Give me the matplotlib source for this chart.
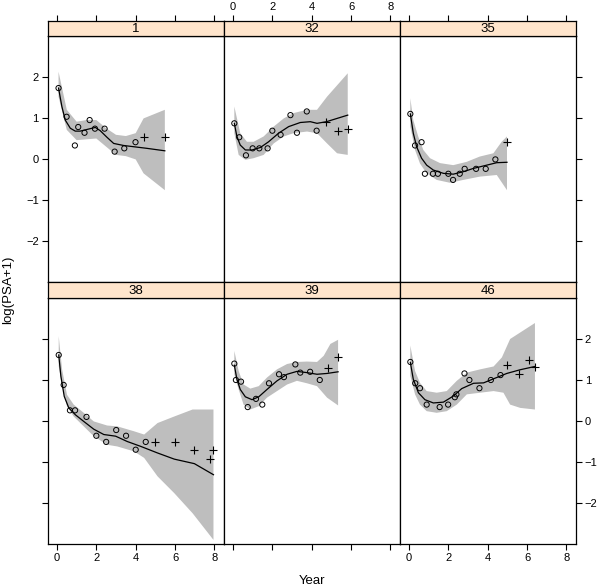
import matplotlib
matplotlib.use('Agg')
import matplotlib.pyplot as plt
import numpy as np

plt.rcParams['font.family'] = ['Liberation Sans', 'DejaVu Sans']

# panel ids, in plotting order (top row then bottom row)
ids = ['1', '32', '35', '38', '39', '46']

# observed points (circles) and later points (crosses), fitted curve, band
p1_ox = [0.08, 0.49, 0.91, 1.08, 1.40, 1.66, 1.93, 2.42, 2.93, 3.42, 3.99]
p1_oy = [1.73, 1.03, 0.33, 0.78, 0.64, 0.95, 0.74, 0.74, 0.18, 0.26, 0.41]
p1_px = [4.42, 5.48]
p1_py = [0.53, 0.53]
p1_fx = [0.08, 0.25, 0.42, 0.68, 0.93, 1.18, 1.52, 1.95, 2.20, 2.54, 2.88, 3.38, 3.89, 4.57, 5.48]
p1_fy = [1.73, 1.28, 0.95, 0.75, 0.68, 0.68, 0.72, 0.77, 0.69, 0.53, 0.38, 0.33, 0.30, 0.26, 0.20]
p1_ux = [0.08, 0.5, 1.0, 1.5, 2.0, 2.5, 3.0, 3.5, 4.0, 4.4, 5.48]
p1_uy = [2.13, 1.2, 0.91, 0.95, 0.95, 0.75, 0.59, 0.56, 0.63, 0.99, 1.2]
p1_lx = [0.08, 0.5, 1.0, 1.5, 2.0, 2.5, 3.0, 3.5, 4.0, 4.4, 5.48]
p1_ly = [1.52, 0.71, 0.46, 0.48, 0.50, 0.30, 0.10, 0.07, -0.01, -0.35, -0.76]

p32_ox = [0.07, 0.32, 0.66, 1.0, 1.34, 1.76, 2.0, 2.42, 2.92, 3.25, 3.75, 4.25]
p32_oy = [0.87, 0.53, 0.09, 0.26, 0.26, 0.26, 0.69, 0.59, 1.07, 0.64, 1.16, 0.69]
p32_px = [4.75, 5.32, 5.83]
p32_py = [0.91, 0.69, 0.74]
p32_fx = [0.07, 0.2, 0.37, 0.63, 0.97, 1.39, 1.81, 2.32, 2.83, 3.42, 3.93, 4.27, 4.75, 5.29, 5.83]
p32_fy = [0.87, 0.55, 0.34, 0.22, 0.22, 0.28, 0.42, 0.63, 0.79, 0.89, 0.91, 0.87, 0.91, 0.99, 1.07]
p32_ux = [0.07, 0.37, 0.71, 1.05, 1.56, 2.07, 2.58, 3.08, 3.76, 4.27, 4.78, 5.83]
p32_uy = [1.28, 0.63, 0.42, 0.42, 0.55, 0.79, 0.99, 1.12, 1.2, 1.2, 1.52, 2.09]
p32_lx = [0.07, 0.29, 0.63, 1.05, 1.56, 2.07, 2.58, 3.08, 3.76, 4.27, 4.78, 5.29, 5.83]
p32_ly = [0.63, 0.1, -0.02, 0.02, 0.1, 0.38, 0.55, 0.63, 0.67, 0.63, 0.38, 0.14, 0.1]

p35_ox = [0.07, 0.31, 0.64, 0.81, 1.22, 1.47, 2.0, 2.24, 2.58, 2.83, 3.41, 3.9, 4.39]
p35_oy = [1.10, 0.33, 0.41, -0.36, -0.36, -0.36, -0.36, -0.51, -0.36, -0.24, -0.24, -0.24, -0.01]
p35_px = [4.98]
p35_py = [0.41]
p35_fx = [0.07, 0.22, 0.39, 0.64, 0.9, 1.24, 1.75, 2.25, 2.76, 3.27, 3.95, 4.46, 4.98]
p35_fy = [1.1, 0.63, 0.3, 0.02, -0.15, -0.27, -0.35, -0.37, -0.31, -0.23, -0.15, -0.09, -0.08]
p35_ux = [0.07, 0.22, 0.47, 0.73, 1.07, 1.58, 2.25, 2.93, 3.6, 4.29, 4.71, 4.98]
p35_uy = [1.48, 0.95, 0.55, 0.22, 0.02, -0.1, -0.15, -0.07, 0.06, 0.14, 0.42, 0.55]
p35_lx = [0.07, 0.31, 0.56, 0.9, 1.41, 2.08, 2.76, 3.6, 4.46, 4.98]
p35_ly = [0.79, 0.22, -0.11, -0.35, -0.51, -0.58, -0.51, -0.43, -0.39, -0.76]

p38_ox = [0.09, 0.34, 0.66, 0.92, 1.5, 2.0, 2.5, 3.01, 3.51, 4.0, 4.51]
p38_oy = [1.61, 0.88, 0.26, 0.26, 0.10, -0.36, -0.51, -0.22, -0.36, -0.70, -0.51]
p38_px = [5.0, 6.01, 6.94, 7.78, 7.95]
p38_py = [-0.51, -0.51, -0.70, -0.93, -0.70]
p38_fx = [0.09, 0.2, 0.37, 0.6, 0.94, 1.36, 1.87, 2.38, 2.98, 3.57, 4.26, 5.11, 5.96, 6.98, 7.95]
p38_fy = [1.61, 1.09, 0.6, 0.32, 0.15, -0.01, -0.2, -0.33, -0.37, -0.5, -0.62, -0.78, -0.93, -1.04, -1.31]
p38_ux = [0.09, 0.26, 0.51, 0.85, 1.36, 1.87, 2.55, 3.06, 3.91, 4.43, 5.11, 5.96, 6.89, 7.95]
p38_uy = [2.07, 1.26, 0.64, 0.4, 0.2, -0.01, -0.11, -0.13, -0.25, -0.33, -0.05, 0.11, 0.28, 0.28]
p38_lx = [0.09, 0.26, 0.51, 0.85, 1.36, 1.87, 2.55, 3.06, 3.91, 4.43, 5.11, 5.96, 6.89, 7.95]
p38_ly = [1.34, 0.85, 0.36, 0.11, -0.13, -0.37, -0.58, -0.62, -0.74, -0.9, -1.35, -1.76, -2.25, -2.9]

p39_ox = [0.07, 0.15, 0.41, 0.75, 1.17, 1.49, 1.83, 2.34, 2.59, 3.17, 3.42, 3.92, 4.41]
p39_oy = [1.40, 1.0, 0.96, 0.34, 0.54, 0.40, 0.92, 1.14, 1.07, 1.38, 1.18, 1.2, 1.0]
p39_px = [4.83, 5.34]
p39_py = [1.29, 1.57]
p39_fx = [0.07, 0.2, 0.37, 0.63, 0.97, 1.31, 1.73, 2.24, 2.75, 3.25, 3.76, 4.27, 4.78, 5.34]
p39_fy = [1.36, 1.02, 0.77, 0.59, 0.52, 0.59, 0.77, 0.98, 1.14, 1.21, 1.18, 1.14, 1.16, 1.2]
p39_ux = [0.07, 0.29, 0.54, 0.88, 1.31, 1.73, 2.24, 2.75, 3.25, 3.76, 4.27, 4.61, 4.95, 5.34]
p39_uy = [1.71, 1.22, 0.89, 0.79, 0.85, 1.06, 1.26, 1.39, 1.44, 1.45, 1.44, 1.59, 1.88, 1.98]
p39_lx = [0.07, 0.29, 0.54, 0.88, 1.31, 1.73, 2.24, 2.75, 3.25, 3.76, 4.27, 4.78, 5.34]
p39_ly = [1.14, 0.77, 0.4, 0.28, 0.36, 0.57, 0.73, 0.89, 0.98, 0.92, 0.85, 0.57, 0.38]

p46_ox = [0.07, 0.32, 0.56, 0.9, 1.56, 1.99, 2.33, 2.41, 2.82, 3.07, 3.58, 4.16, 4.65]
p46_oy = [1.44, 0.92, 0.80, 0.40, 0.34, 0.40, 0.58, 0.65, 1.16, 1.0, 0.80, 1.0, 1.12]
p46_px = [4.99, 5.57, 6.08, 6.4]
p46_py = [1.37, 1.14, 1.49, 1.32]
p46_fx = [0.07, 0.22, 0.48, 0.81, 1.24, 1.75, 2.26, 2.68, 3.28, 3.79, 4.3, 4.97, 5.65, 6.4]
p46_fy = [1.43, 1.02, 0.69, 0.52, 0.44, 0.46, 0.61, 0.79, 0.92, 0.93, 1.03, 1.16, 1.25, 1.33]
p46_ux = [0.07, 0.31, 0.56, 0.9, 1.41, 1.92, 2.43, 2.94, 3.62, 4.3, 4.72, 5.14, 6.4]
p46_uy = [1.84, 1.22, 0.93, 0.73, 0.69, 0.73, 0.98, 1.18, 1.26, 1.33, 1.55, 2.0, 2.39]
p46_lx = [0.07, 0.31, 0.56, 0.9, 1.41, 1.92, 2.43, 2.94, 3.62, 4.3, 4.8, 5.14, 5.65, 6.4]
p46_ly = [1.1, 0.65, 0.4, 0.24, 0.2, 0.24, 0.4, 0.65, 0.69, 0.73, 0.69, 0.4, 0.32, 0.28]

panels = [
    (p1_ox, p1_oy, p1_px, p1_py, p1_fx, p1_fy, p1_ux, p1_uy, p1_lx, p1_ly),
    (p32_ox, p32_oy, p32_px, p32_py, p32_fx, p32_fy, p32_ux, p32_uy, p32_lx, p32_ly),
    (p35_ox, p35_oy, p35_px, p35_py, p35_fx, p35_fy, p35_ux, p35_uy, p35_lx, p35_ly),
    (p38_ox, p38_oy, p38_px, p38_py, p38_fx, p38_fy, p38_ux, p38_uy, p38_lx, p38_ly),
    (p39_ox, p39_oy, p39_px, p39_py, p39_fx, p39_fy, p39_ux, p39_uy, p39_lx, p39_ly),
    (p46_ox, p46_oy, p46_px, p46_py, p46_fx, p46_fy, p46_ux, p46_uy, p46_lx, p46_ly),
]

xticks = [0, 2, 4, 6, 8]
yticks = [-2, -1, 0, 1, 2]

fig = plt.figure(figsize=(6, 5.88), dpi=100)

W, H = 600.0, 588.0
left, right = 47.7, 575.7
colw = (right - left) / 3
# (strip top, strip bottom / panel top, panel bottom) in pixels
rows = [(20.7, 36.0, 282.0), (282.0, 298.0, 544.0)]

tk = dict(length=4.5, width=0.8, labelsize=8, direction='out', pad=2)

for k, pid in enumerate(ids):
    r, c = divmod(k, 3)
    st, pt, pb = rows[r]
    x0 = (left + c * colw) / W
    ax = fig.add_axes([x0, 1 - pb / H, colw / W, (pb - pt) / H])
    sx = fig.add_axes([x0, 1 - pt / H, colw / W, (pt - st) / H])

    ox, oy, px, py, fx, fy, ux, uy, lx, ly = panels[k]
    ax.fill(np.r_[ux, lx[::-1]], np.r_[uy, ly[::-1]], color='#BEBEBE', lw=0)
    ax.plot(fx, fy, color='black', lw=0.9)
    ax.scatter(ox, oy, s=14, facecolors='none', edgecolors='black', linewidths=0.7, zorder=3)
    ax.scatter(px, py, s=40, marker='+', color='black', linewidths=0.8, zorder=3)

    ax.set_xlim(-0.47, 8.47)
    ax.set_ylim(-3.0, 3.0)
    for sp in ax.spines.values():
        sp.set_linewidth(0.9)

    # strip
    sx.set_facecolor('#FFE5CC')
    sx.set_xlim(-0.47, 8.47)
    sx.set_yticks([])
    sx.text(0.5, 0.45, pid, transform=sx.transAxes, ha='center', va='center', fontsize=9.5)
    for sp in sx.spines.values():
        sp.set_linewidth(0.9)

    # x ticks: top row on top of strips, bottom row at bottom
    if r == 0:
        ax.set_xticks([])
        sx.set_xticks(xticks)
        sx.tick_params(axis='x', top=True, bottom=False, labeltop=(c == 1), labelbottom=False, **tk)
    else:
        sx.set_xticks([])
        ax.set_xticks(xticks)
        ax.tick_params(axis='x', top=False, bottom=True, labelbottom=(c != 1), **tk)

    # y ticks: left column and right column, alternating labels
    ax.set_yticks(yticks)
    ax.set_yticklabels([str(v).replace('-', '\u2212') for v in yticks])
    if c == 0:
        ax.tick_params(axis='y', left=True, right=False, labelleft=(r == 0), labelright=False, **tk)
    elif c == 2:
        ax.tick_params(axis='y', left=False, right=True, labelleft=False, labelright=(r == 1), **tk)
    else:
        ax.tick_params(axis='y', left=False, right=False, labelleft=False, labelright=False)

fig.text((left + right) / 2 / W, 0.012, 'Year', ha='center', va='center', fontsize=9.5)
fig.text(8 / W, 1 - 290 / H, 'log(PSA+1)', rotation=90, ha='center', va='center', fontsize=9.5)

fig.savefig('out.png', dpi=100)
